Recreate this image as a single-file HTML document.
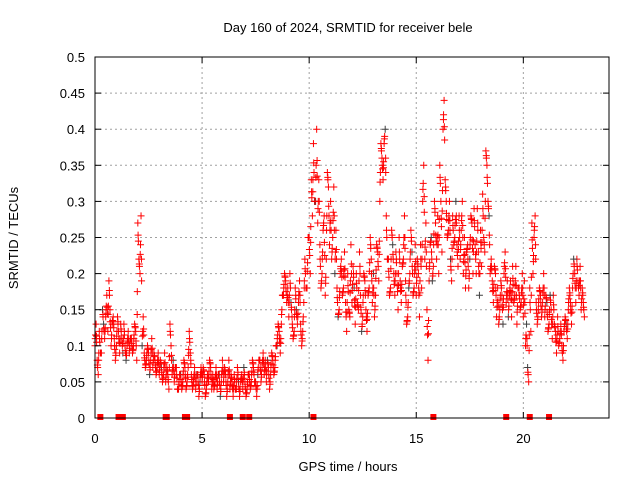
<!DOCTYPE html>
<html><head><meta charset="utf-8"><style>
body{margin:0;background:#fff}
svg{display:block;font-family:"Liberation Sans",sans-serif}
</style></head><body>
<svg id="chart" width="640" height="480">
<text x="348" y="32" font-size="13" text-anchor="middle">Day 160 of 2024, SRMTID for receiver bele</text>
<text x="348" y="471" font-size="13" text-anchor="middle">GPS time / hours</text>
<text transform="translate(18,238) rotate(-90)" font-size="13" text-anchor="middle">SRMTID / TECUs</text>
<g id="grid"></g><g id="marks"></g><g id="axes"></g>
</svg>
<script>
const xTicks=[0,5,10,15,20];
const yTicks=[0,0.05,0.1,0.15,0.2,0.25,0.3,0.35,0.4,0.45,0.5];
const yTickLabels=["0","0.05","0.1","0.15","0.2","0.25","0.3","0.35","0.4","0.45","0.5"];
const hourStep=0.1;
const seriesA=[.10,.08,.12,.09,.13,.14,.12,.15,.13,.11,
.10,.12,.13,.09,.10,.10,.09,.11,.10,.12,
.27,.20,.10,.09,.08,.09,.08,.07,.08,.07,
.06,.07,.06,.05,.06,.13,.06,.05,.07,.04,
.06,.05,.07,.05,.12,.06,.05,.04,.06,.05,
.05,.06,.04,.05,.07,.06,.05,.04,.06,.05,
.05,.06,.05,.04,.05,.06,.04,.05,.05,.04,
.05,.04,.06,.05,.07,.05,.06,.08,.07,.06,
.05,.07,.06,.08,.07,.10,.12,.13,.17,.19,
.18,.20,.14,.12,.15,.16,.13,.12,.22,.18,
.25,.33,.38,.30,.27,.24,.20,.28,.22,.32,
.30,.25,.20,.18,.15,.22,.18,.16,.20,.14,
.16,.18,.20,.15,.17,.14,.19,.12,.18,.22,
.20,.17,.23,.30,.36,.38,.28,.22,.18,.24,
.17,.20,.25,.16,.22,.19,.14,.20,.23,.18,
.17,.20,.24,.30,.22,.15,.19,.25,.21,.27,
.28,.35,.23,.44,.30,.26,.22,.28,.25,.24,
.28,.26,.20,.18,.24,.22,.27,.29,.20,.23,
.26,.31,.23,.35,.28,.22,.16,.20,.18,.15,
.17,.20,.16,.14,.19,.21,.17,.13,.18,.16,
.14,.10,.07,.18,.27,.25,.16,.15,.17,.16,
.14,.16,.13,.15,.17,.12,.14,.11,.10,.12,
.13,.15,.16,.18,.20,.22,.17,.15,.16];
const seriesB=[.13,.06,.09,.15,.11,.17,.19,.10,.14,.08,
.14,.09,.11,.13,.08,.12,.11,.09,.13,.08,
.22,.28,.14,.07,.10,.06,.11,.09,.06,.09,
.08,.05,.09,.07,.04,.10,.08,.07,.04,.06,
.04,.08,.04,.07,.09,.04,.07,.06,.03,.07,
.07,.03,.06,.08,.04,.04,.07,.06,.03,.08,
.07,.03,.08,.06,.03,.04,.07,.03,.06,.07,
.03,.06,.04,.08,.05,.03,.08,.05,.09,.08,
.08,.04,.09,.06,.10,.13,.09,.17,.20,.16,
.14,.16,.11,.18,.13,.19,.10,.16,.18,.25,
.20,.28,.30,.40,.33,.18,.26,.17,.34,.24,
.22,.32,.26,.14,.20,.17,.23,.12,.15,.24,
.21,.13,.16,.23,.12,.20,.15,.17,.25,.16,
.14,.24,.19,.38,.33,.40,.22,.17,.26,.20,
.23,.15,.19,.21,.28,.13,.18,.26,.17,.24,
.22,.14,.18,.35,.27,.08,.24,.19,.30,.22,
.20,.30,.40,.33,.25,.30,.19,.24,.30,.21,
.22,.30,.25,.23,.18,.28,.20,.24,.29,.17,
.21,.25,.37,.30,.20,.19,.21,.14,.13,.19,
.13,.23,.19,.17,.14,.16,.21,.18,.15,.20,
.19,.13,.05,.12,.20,.28,.13,.18,.14,.20,
.17,.12,.17,.11,.13,.09,.10,.13,.08,.14,
.11,.18,.13,.22,.16,.19,.21,.18,.14];
const zeroHours=[0.25,1.1,1.2,1.3,3.3,3.35,4.2,4.3,6.3,6.9,7.2,10.2,15.8,19.2,20.3,21.2];

const L=95,R=609,T=57,B=418,XMAX=24,YMAX=0.5;
const xs=h=>L+h/XMAX*(R-L), ys=v=>B-v/YMAX*(B-T);
const NS="http://www.w3.org/2000/svg";
function mk(tag,attrs,parent){const e=document.createElementNS(NS,tag);for(const k in attrs)e.setAttribute(k,attrs[k]);parent.appendChild(e);return e;}
const grid=document.getElementById('grid'),marks=document.getElementById('marks'),axes=document.getElementById('axes');
yTicks.forEach((v,i)=>{
  const y=ys(v);
  if(i>0&&i<yTicks.length-1){const g=mk('line',{x1:L,x2:R,y1:y,y2:y,stroke:'#a0a0a0','stroke-dasharray':'2,3'},grid);
  
  }
  const t=mk('text',{x:L-10,y:y+5,'font-size':13,'text-anchor':'end'},axes);t.textContent=yTickLabels[i];
  
  
  mk('line',{x1:L,x2:L+6,y1:y,y2:y,stroke:'#000'},axes);
  mk('line',{x1:R,x2:R-6,y1:y,y2:y,stroke:'#000'},axes);
});
xTicks.forEach(h=>{
  const x=xs(h);
  if(h>0){const g=mk('line',{x1:x,x2:x,y1:T,y2:B,stroke:'#a0a0a0','stroke-dasharray':'2,3'},grid);
  
  }
  const t=mk('text',{x:x,y:B+25,'font-size':13,'text-anchor':'middle'},axes);t.textContent=h;
  
  
  mk('line',{x1:x,x2:x,y1:B,y2:B-6,stroke:'#000'},axes);
  mk('line',{x1:x,x2:x,y1:T,y2:T+6,stroke:'#000'},axes);
});
const fr=mk('rect',{x:L,y:T,width:R-L,height:B-T,fill:'none',stroke:'#000','stroke-width':1},axes);


function plus(h,v,col){
  const x=xs(h),y=ys(v);
  const p=mk('path',{d:`M${x-3.5},${y}H${x+3.5}M${x},${y-3.5}V${y+3.5}`,stroke:col,'stroke-width':1},marks);
  
  
}
seriesA.forEach((v,i)=>plus(i*hourStep,v,i%9===4?'#404040':'#ff0000'));
seriesB.forEach((v,i)=>plus(i*hourStep+hourStep/2,v,i%11===3?'#404040':'#ff0000'));
seriesA.forEach((v,i)=>{if(i>0)plus(i*hourStep-hourStep/4,(v+seriesB[i-1])/2,'#ff0000');});
seriesA.forEach((v,i)=>{if(i<seriesB.length)plus(i*hourStep+hourStep/4,(v+seriesB[i])/2,'#ff0000');});
seriesB.forEach((v,i)=>{if(i+1<seriesA.length)plus(i*hourStep+hourStep*0.7,(2*v+seriesA[i+1])/3,'#ff0000');});
seriesA.forEach((v,i)=>{if(i<seriesB.length)plus(i*hourStep+hourStep*0.12,(2*v+seriesB[i])/3,'#ff0000');});
zeroHours.forEach(h=>{
  const r=mk('rect',{x:xs(h)-3,y:B-4,width:6,height:6,fill:'#ff0000'},marks);
  
  
});
</script>
</body></html>
